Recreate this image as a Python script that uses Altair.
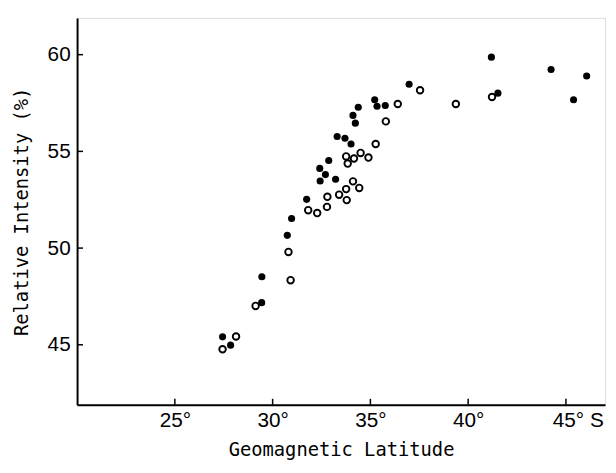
import altair as alt
import pandas as pd

filled_lat = [36.98, 35.22, 35.34, 35.76, 34.38, 34.11, 34.23, 33.30, 33.70, 34.01,
              32.87, 32.41, 32.70, 32.43, 33.22, 31.74, 30.97, 30.75, 29.45, 29.44,
              27.44, 27.85, 41.52, 44.24, 46.06, 45.39, 41.19]
filled_int = [58.47, 57.67, 57.33, 57.37, 57.28, 56.86, 56.46, 55.77, 55.68, 55.38,
              54.53, 54.12, 53.80, 53.47, 53.56, 52.52, 51.53, 50.66, 48.52, 47.18,
              45.41, 44.98, 58.01, 59.23, 58.90, 57.67, 59.87]

open_lat = [36.40, 35.79, 35.27, 33.76, 34.16, 34.50, 34.90, 33.84, 34.11, 34.43,
            33.76, 33.40, 33.79, 32.80, 32.78, 31.82, 32.28, 30.81, 30.92, 29.13,
            28.13, 27.44, 37.54, 39.37, 41.22]
open_int = [57.45, 56.55, 55.38, 54.74, 54.63, 54.92, 54.68, 54.37, 53.45, 53.11,
            53.05, 52.76, 52.48, 52.65, 52.13, 51.96, 51.81, 49.80, 48.34, 47.01,
            45.43, 44.77, 58.16, 57.45, 57.81]

x_ticks = [25, 30, 35, 40, 45]
y_ticks = [45, 50, 55, 60]

W, H = 535, 392
XDOM = [20, 47]
YDOM = [41.9, 61.9]

filled = pd.DataFrame({"lat": filled_lat, "val": filled_int})
opened = pd.DataFrame({"lat": open_lat, "val": open_int})
xt = pd.DataFrame({"t": x_ticks})
yt = pd.DataFrame({"t": y_ticks})

xscale = alt.Scale(domain=XDOM, nice=False, zero=False)
yscale = alt.Scale(domain=YDOM, nice=False, zero=False)

xaxis = alt.Axis(
    values=x_ticks,
    labelExpr="datum.value == 45 ? '45° S' : datum.value + '°'",
    labelOffset={"condition": {"test": "datum.value == 45", "value": 12}, "value": 0},
    title="Geomagnetic Latitude",
    tickSize=0, labelPadding=5, grid=False,
    domainColor="black", domainWidth=2,
    labelFont="Liberation Sans", labelFontSize=21, labelColor="black",
    titleFont="DejaVu Sans Mono", titleFontSize=19, titleFontWeight="normal",
    titleColor="black", titlePadding=10,
)
yaxis = alt.Axis(
    values=y_ticks,
    title="Relative Intensity  (%)",
    tickSize=0, labelPadding=7, grid=False,
    domainColor="black", domainWidth=2,
    labelFont="Liberation Sans", labelFontSize=21, labelColor="black",
    titleFont="DejaVu Sans Mono", titleFontSize=19, titleFontWeight="normal",
    titleColor="black", titlePadding=16,
)

open_layer = alt.Chart(opened).mark_point(
    shape="circle", filled=False, color="black", strokeWidth=1.9, size=44, opacity=1
).encode(
    x=alt.X("lat:Q", scale=xscale, axis=xaxis),
    y=alt.Y("val:Q", scale=yscale, axis=yaxis),
)

filled_layer = alt.Chart(filled).mark_circle(color="black", size=52, opacity=1).encode(
    x=alt.X("lat:Q", scale=xscale),
    y=alt.Y("val:Q", scale=yscale),
)

xtick_layer = alt.Chart(xt).mark_rule(color="black", strokeWidth=1.5).encode(
    x=alt.X("t:Q", scale=xscale),
    y=alt.value(H),
    y2=alt.value(H - 6),
)

ytick_layer = alt.Chart(yt).mark_rule(color="black", strokeWidth=1.5).encode(
    y=alt.Y("t:Q", scale=yscale),
    x=alt.value(0),
    x2=alt.value(6),
)

chart = alt.layer(open_layer, filled_layer, xtick_layer, ytick_layer).properties(
    width=W, height=H,
    autosize=alt.AutoSizeParams(type="none"),
    padding={"left": 70, "top": 7, "right": 3, "bottom": 58},
).configure_view(stroke="black", strokeWidth=1.5).configure(background="white")

chart.save("out.html", embed_options={"renderer": "svg", "actions": False})
